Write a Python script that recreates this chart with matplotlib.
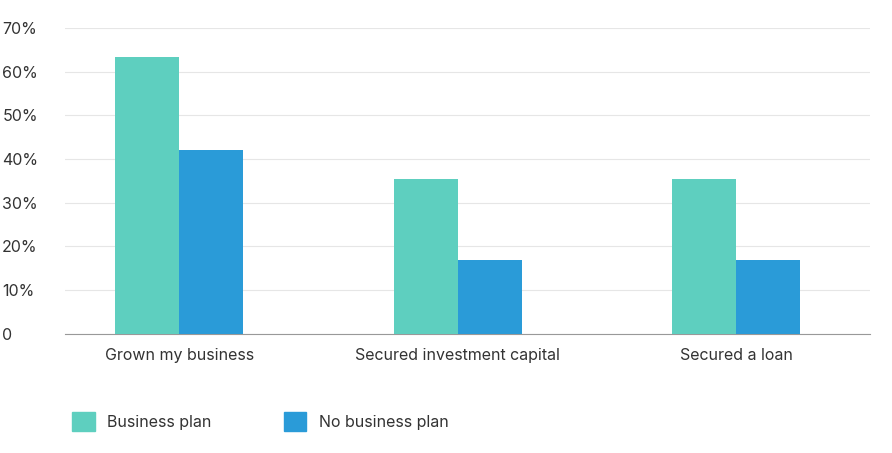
import matplotlib.pyplot as plt
from matplotlib.patches import Patch

categories = ["Grown my business", "Secured investment capital", "Secured a loan"]
with_plan = [63.4, 35.4, 35.4]
without_plan = [42.1, 16.8, 16.8]
series_names = ["Business plan", "No business plan"]
colors = ["#5ecfbf", "#2a9bd8"]

plt.rcParams['font.family'] = ['Inter', 'DejaVu Sans']
fig = plt.figure(figsize=(8.92, 4.53), dpi=100)
ax = fig.add_axes([0.073, 0.263, 0.902, 0.675])

x = list(range(len(categories)))
w = 0.23
ax.bar([i - w / 2 for i in x], with_plan, w, color=colors[0], zorder=3)
ax.bar([i + w / 2 for i in x], without_plan, w, color=colors[1], zorder=3)

ax.set_xlim(-0.41, 2.48)
ax.set_ylim(0, 70)
ax.set_yticks(range(0, 71, 10))
ax.set_yticklabels(["0"] + [f"{v}%" for v in range(10, 71, 10)])
ax.set_xticks(x)
ax.set_xticklabels(categories)
ax.tick_params(length=0, labelsize=11.5, colors="#333333", pad=10)
ax.tick_params(axis='y', pad=10)
ax.grid(axis='y', color="#e6e6e6", linewidth=0.8, zorder=0)
for s in ["top", "right", "left"]:
    ax.spines[s].set_visible(False)
ax.spines["bottom"].set_color("#999999")
for lbl in ax.get_yticklabels():
    lbl.set_horizontalalignment("left")
    lbl.set_x(-0.073 / 0.902 + 0.02)

handles = [Patch(color=c) for c in colors]
fig.legend(handles, series_names, loc="center left", bbox_to_anchor=(0.065, 0.07),
           ncol=2, frameon=False, fontsize=11.5, handlelength=1.4, handleheight=1.4,
           columnspacing=4.5, labelcolor="#333333")

fig.savefig("out.png", dpi=100)
